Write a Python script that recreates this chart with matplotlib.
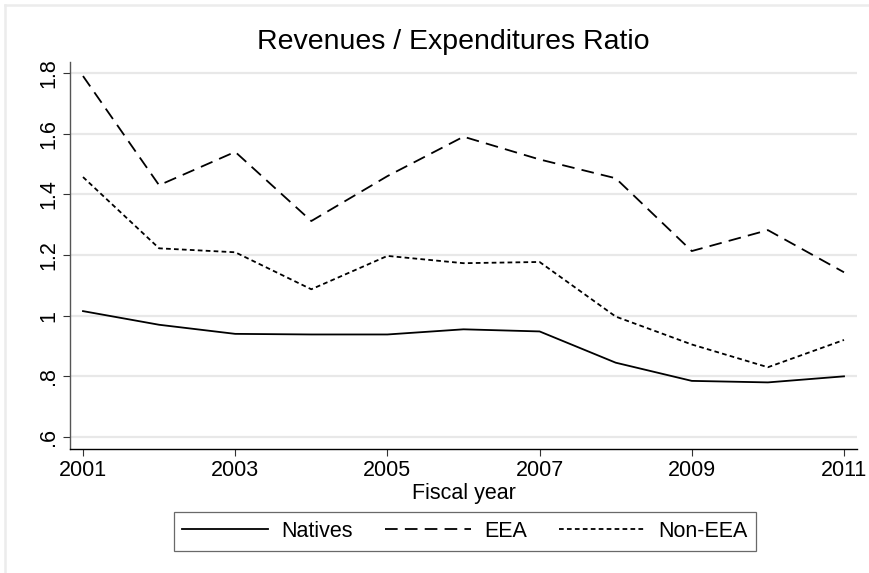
import numpy as np
import matplotlib
matplotlib.use('Agg')
import matplotlib.pyplot as plt
from matplotlib.lines import Line2D

plt.rcParams['font.family'] = ['Liberation Sans', 'DejaVu Sans']

years = [2001, 2002, 2003, 2004, 2005, 2006, 2007, 2008, 2009, 2010, 2011]
natives = [1.015, 0.97, 0.94, 0.938, 0.938, 0.955, 0.948, 0.845, 0.785, 0.78, 0.80]
eea = [1.79, 1.43, 1.54, 1.312, 1.46, 1.59, 1.515, 1.453, 1.213, 1.282, 1.143]
non_eea = [1.457, 1.222, 1.209, 1.087, 1.197, 1.173, 1.177, 0.997, 0.905, 0.83, 0.92]

yticks = [0.6, 0.8, 1.0, 1.2, 1.4, 1.6, 1.8]
ytick_labels = ['.6', '.8', '1', '1.2', '1.4', '1.6', '1.8']
xticks = [2001, 2003, 2005, 2007, 2009, 2011]

fig = plt.figure(figsize=(8.69, 5.73), dpi=100)
ax = fig.add_axes([70/869, 1 - 449/573, (857 - 70)/869, (449 - 62)/573])

lw = 1.3
ax.plot(years, natives, color='black', lw=lw, ls='-', label='Natives')
ax.plot(years, eea, color='black', lw=lw, ls=(0, (7, 4)), label='EEA')
ax.plot(years, non_eea, color='black', lw=lw, ls=(0, (2.6, 1.8)), label='Non-EEA')

ax.set_xlim(2001 - 13/76.1, 2011 + 13/76.1)
ax.set_ylim(0.6 - 12/303.3, 1.8 + 11/303.3)

ax.set_yticks(yticks)
ax.set_yticklabels(ytick_labels, rotation=90, va='center', fontsize=15.5)
ax.set_xticks(xticks)
ax.set_xticklabels([str(x) for x in xticks], fontsize=15.5)
ax.tick_params(axis='both', length=5, width=0.8, color='#333333', pad=3)
ax.yaxis.grid(True, color='#e8e8e8', lw=1.6)
ax.set_axisbelow(True)

for s in ['top', 'right']:
    ax.spines[s].set_visible(False)
ax.spines['left'].set_color('#555555')
ax.spines['bottom'].set_color('black')
ax.spines['left'].set_linewidth(1.0)
ax.spines['bottom'].set_linewidth(1.0)

ax.set_xlabel('Fiscal year', fontsize=15.5, labelpad=1)
fig.text(453/869, 1 - 42/573, 'Revenues / Expenditures Ratio', ha='center', va='center', fontsize=20.5)

leg = fig.legend(loc='center', bbox_to_anchor=(465/869, 1 - 531.5/573), ncol=3,
                 fontsize=15.5, handlelength=4.0, columnspacing=1.5, handletextpad=0.6,
                 frameon=True, fancybox=False, borderpad=0.4)
leg.get_frame().set_edgecolor('#444444')
leg.get_frame().set_linewidth(0.9)

# faint outer frame of the graph region
fig.add_artist(Line2D([5/869, 5/869], [0, 1 - 5/573], transform=fig.transFigure, color='#ececec', lw=1.8))
fig.add_artist(Line2D([5/869, 1], [1 - 5/573, 1 - 5/573], transform=fig.transFigure, color='#ececec', lw=1.8))

fig.savefig('out.png', dpi=100)
